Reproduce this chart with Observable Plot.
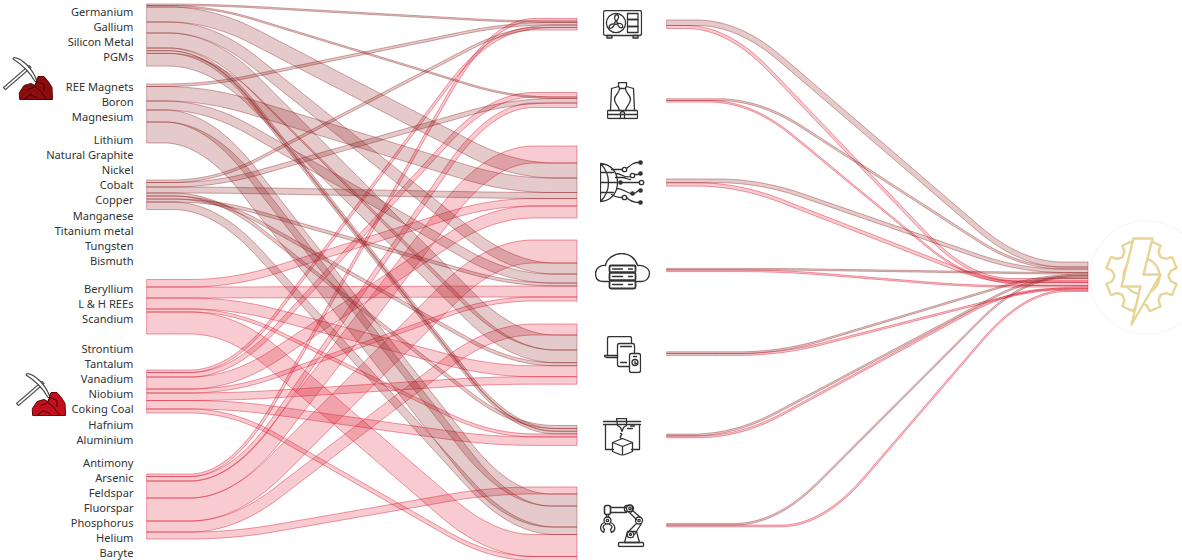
<!DOCTYPE html>
<html><head><meta charset="utf-8">
<script src="https://cdn.jsdelivr.net/npm/d3@7"></script>
<script src="https://cdn.jsdelivr.net/npm/@observablehq/plot@0.6"></script>
<style>html,body{margin:0;padding:0;background:#fff;overflow:hidden}svg{display:block}</style>
</head><body><div id="chart"></div>
<script>
// ---------- DATA ----------
const minerals = ["Germanium","Gallium","Silicon Metal","PGMs","REE Magnets","Boron","Magnesium","Lithium","Natural Graphite","Nickel","Cobalt","Copper","Manganese","Titanium metal","Tungsten","Bismuth","Beryllium","L & H REEs","Scandium","Strontium","Tantalum","Vanadium","Niobium","Coking Coal","Hafnium","Aluminium","Antimony","Arsenic","Feldspar","Fluorspar","Phosphorus","Helium","Baryte"];
const labelGroupSizes = [4,3,9,3,7,7];
// supply-band magnitudes, in the order they leave the left-hand column
const bandValues  = [1.5,1.5,15,11,15,2.7,2.7,12.7, 2.5,14.5,9,12,21, 2.5,4.5,6,3,3,3,7.5, 7.5,11,11,3,22, 2.5,4.5,12,4,7.5,8.5,4, 2.5,4.5,17,23,11,7];
const bandBlockSizes = [8,5,7,5,7,6];
const bandBlockRisk  = ["high","high","high","mid","mid","mid"];
// stacking order of the bands entering each sector
const sectorInflows = [
  [32,0,8,13,25],
  [26,1,14,33],
  [34,2,9,15,20,27],
  [35,3,10,18,21,28],
  [36,4,7,17,22,29],
  [16,5,6,23,30],
  [37,11,12,19,24,31]
];
// sector to technology flows: magnitude at the sector, magnitude at the final node
const outDarkSector = [5.5,1.8,3.7,1.5,1.7,1.8,1.7];
const outPinkSector = [3,1.6,3.4,1.7,1.9,1.8,1.7];
const outDarkFinal  = [5,2,3.5,1.5,1.5,1.5,1.5];
const outPinkFinal  = [2.5,1.5,3,1.5,1.5,1.5,1.5];

// ---------- LAYOUT ----------
const W = 1182, H = 560;
const xLeft = 147, xMid = 577, xOut = 667, xEnd = 1088;
const blockTops = [4,84,180,279.5,370,474];
const blockRamp = [[.15,.85],[.14,.84],[.16,.85],[.2,.8],[.2,.8],[.2,.8]];
const sectorTops = [18.5,92.5,146,240,324,425.5,487];
const outTops = [20,98.7,179,268.4,351.8,434.1,523.4];
const finalTop = 262;
const labelTops = [12,87,140,288.5,349,462.5];
const labelStep = 15.1, labelX = 133;
const colors = {high:"#8b1a1a", mid:"#dc1e35"};
const strokeAlpha = {high:.5, mid:.6};
const darkRampA=[.17,.22,.22,.27,.27,.16,.26], darkRampB=[.84,.84,.84,.89,.89,.87,.845];
const pinkRampA=[.145,.2,.17,.27,.27,.175,.37], pinkRampB=[.72,.72,.78,.72,.89,.82,.85];

function ease(u,a,b,r){
  const h = 1/(b-a);
  if (u <= a-r) return 0;
  if (u <  a+r) return h*(u-a+r)*(u-a+r)/(4*r);
  if (u <= b-r) return h*(u-a);
  if (u <  b+r) return 1-h*(b+r-u)*(b+r-u)/(4*r);
  return 1;
}
// constant perpendicular width, like a stroked sankey link
function ribbon(id,risk,x0,x1,a0,a1,b0,b1,k){
  const out=[], n=120, dx=(x1-x0);
  const mid=u=>{const e=ease(u,k[0],k[1],k[2]);return (a0+a1)/2+((b0+b1)/2-(a0+a1)/2)*e;};
  for(let i=0;i<=n;i++){
    const u=i/n, e=ease(u,k[0],k[1],k[2]);
    const hw=((a1-a0)+((b1-b0)-(a1-a0))*e)/2;
    const s=(mid(Math.min(1,u+.002))-mid(Math.max(0,u-.002)))/((Math.min(1,u+.002)-Math.max(0,u-.002))*dx);
    const L=Math.sqrt(1+s*s), x=x0+dx*u, y=mid(u);
    out.push({id,risk,xa:x+s*hw/L,ya:y-hw/L,xb:x-s*hw/L,yb:y+hw/L});
  }
  return out;
}
const flows=[];
const bandTop=[], bandRisk=[], bandBlock=[];
{let i=0; bandBlockSizes.forEach((n,b)=>{let y=blockTops[b];for(let j=0;j<n;j++,i++){bandTop[i]=y;bandRisk[i]=bandBlockRisk[b];bandBlock[i]=b;y+=bandValues[i];}});}
sectorInflows.forEach((list,s)=>{
  let y=sectorTops[s];
  list.forEach(i=>{
    const v=bandValues[i], rp=blockRamp[bandBlock[i]];
    flows.push(...ribbon("L"+i,bandRisk[i],xLeft,xMid,bandTop[i],bandTop[i]+v,y,y+v,[rp[0],rp[1],.1]));
    y+=v;
  });
});
{let y=finalTop;
 outDarkSector.forEach((v,s)=>{const t=outTops[s],f=outDarkFinal[s];
   flows.push(...ribbon("D"+s,"high",xOut,xEnd,t,t+v,y,y+f,[darkRampA[s],darkRampB[s],.1])); y+=f;});
 outPinkSector.forEach((v,s)=>{const t=outTops[s]+outDarkSector[s],f=outPinkFinal[s];
   flows.push(...ribbon("P"+s,"mid",xOut,xEnd,t,t+v,y,y+f,[pinkRampA[s],pinkRampB[s],.1])); y+=f;});
}
const labelRows=[];
{let i=0; labelGroupSizes.forEach((n,g)=>{for(let j=0;j<n;j++,i++)labelRows.push({name:minerals[i],y:labelTops[g]+j*labelStep});});}

// ---------- ICONS ----------
const ink="#333";
const svgUri=(w,h,b,extra="")=>"data:image/svg+xml;charset=utf-8,"+encodeURIComponent(
  `<svg xmlns="http://www.w3.org/2000/svg" width="${w}" height="${h}" viewBox="0 0 ${w} ${h}" fill="none" stroke="${ink}" stroke-width="1.3" stroke-linejoin="round" stroke-linecap="round" ${extra}>${b}</svg>`);
const acIcon=svgUri(40,30,`<rect x="1" y="1" width="38" height="25" rx="2"/><rect x="4.5" y="26" width="5" height="2.5"/><rect x="30.5" y="26" width="5" height="2.5"/><circle cx="13.5" cy="13.5" r="9.6"/><circle cx="13.5" cy="13.5" r="1.4"/><path d="M13.5 12 C11 9 12 5 15 5 C17 7 15.5 10 13.5 12 M15 14 C19 13 21 16 20 18 C17.5 19 15.5 17 15 14 M12 14.5 C11 18 8 20 6.5 18 C6.5 15.5 9.5 14 12 14.5"/><rect x="25" y="4" width="10.5" height="6"/><rect x="25" y="10" width="10.5" height="7"/><rect x="25" y="17" width="10.5" height="6"/>`);
const furnaceIcon=svgUri(32,38,`<path d="M12 1h8v4l-1.5 2h-5L12 5z"/><path d="M5 7 L12 5 M20 5 L27 7 M5 7 L4 29 M27 7 L28 29"/><path d="M13 7 C13 12 8 13 8 18 C8 22 12 24 13 29 M19 7 C19 12 24 13 24 18 C24 22 20 24 19 29"/><rect x="1" y="29" width="30" height="8" rx="1"/><path d="M1 33 H31 M14 37 V32 a2 2 0 0 1 4 0 V37"/>`);
const globeIcon=svgUri(46,46,`<path d="M1 4 V42 M1 4 C14 5 18 15 18 23 C18 31 14 41 1 42 M1 4 C8 11 9 17 9 23 C9 29 8 35 1 42 M1 23 H18 M1 13 H14 M1 33 H14"/><circle cx="25" cy="10" r="2.2"/><circle cx="33" cy="16" r="2.2"/><circle cx="41" cy="3" r="1.7" fill="${ink}"/><circle cx="41" cy="14" r="1.7" fill="${ink}"/><circle cx="42" cy="23" r="2.2"/><circle cx="41" cy="31" r="1.7" fill="${ink}"/><circle cx="33" cy="34" r="1.7" fill="${ink}"/><circle cx="25" cy="38" r="2.2"/><circle cx="41" cy="43" r="1.7" fill="${ink}"/><circle cx="21" cy="23" r="1.7" fill="${ink}"/><path d="M12 10 C16 10 17 10 23 10 M27 9 C32 5 34 3 39 3 M17 14 C22 14 25 19 31 17 M35 15 H39 M23 23 H40 M16 18 H23 C27 18 27 20 31 20 M17 29 C23 29 25 32 31 34 M35 34 L39 31 M12 35 C16 38 20 38 23 38 M27 38 C30 41 35 43 39 43"/>`);
const cloudIcon=svgUri(56,38,`<path d="M14 29 H9 C3 29 1 25 1 21 C1 16 6 12 11 13 C12 6 20 1 27 1 C35 1 41 6 43 13 C49 12 55 16 55 21 C55 26 51 29 47 29 H42"/><rect x="15" y="13" width="26" height="7" rx="1.5" stroke-width="1.8"/><rect x="15" y="20" width="26" height="8" rx="1.5" stroke-width="1.8"/><rect x="15" y="28" width="26" height="8" rx="1.5" stroke-width="1.8"/><path d="M18 16.5 H28 M18 24 H28 M18 32 H28 M34 16.5 H38 M34 24 H38 M34 32 H38" stroke-width="1.4"/>`);
const devicesIcon=svgUri(38,38,`<path d="M4 20 V3 a2 2 0 0 1 2 -2 H26 a2 2 0 0 1 2 2 V7"/><path d="M1 20 H14 V22 H3 C2 22 1 21 1 20"/><rect x="14" y="8" width="17" height="23" rx="2"/><path d="M17 11 H28 M17 27 H23"/><rect x="26" y="18" width="11" height="19" rx="2" fill="#fff"/><circle cx="31.5" cy="27" r="3"/><path d="M30 21 H33 M31.5 26 V28 L33 28"/>`);
const printerIcon=svgUri(40,38,`<path d="M1 4 H38 M1 7 H38 M3 7 V32 H11 M37 7 V32 H29"/><path d="M14 1 H24 V8 L21 10 L19.5 14 L18 10 L15 8 Z"/><path d="M18 16 C22 17 15 19 19 21 M25 11 H30 M28 8.5 H32"/><path d="M20 21 L30 25 V34 L20 38 L10 34 V25 Z M10 25 L20 29 L30 25 M20 29 V38"/>`);
const robotIcon=svgUri(46,44,`<rect x="5" y="2" width="6" height="9" rx="2" stroke-width="1.6"/><path d="M11 4 H27 M11 9 H27" stroke-width="1.4"/><rect x="25" y="2" width="8" height="6" rx="2"/><circle cx="30.5" cy="5" r="3.5"/><circle cx="30.5" cy="5" r="1.2"/><path d="M33 7 L41 14 M30 9 L37 16"/><circle cx="39.5" cy="17" r="3.5"/><circle cx="39.5" cy="17" r="1.2"/><path d="M37 20 L30 27 M42 20 L35 31"/><path d="M28 28 L25 39 H40 L37 28 Z"/><circle cx="31" cy="31" r="3.2"/><circle cx="31" cy="31" r="1"/><rect x="19" y="39" width="25" height="4" rx="1"/><path d="M7 11 V14 M9 11 V14"/><circle cx="8" cy="17" r="3.5"/><circle cx="8" cy="17" r="1.2"/><path d="M5 19 C0 21 0 27 4 29 L5 26 C3 24 3 22 6 21 M11 19 C16 21 17 27 12 29 L11 26 C13 24 13 22 10 21"/>`);

function pickIcon(rock){
  return svgUri(66,46,`<path d="M1.5 31 L27 9 L29 11 L3.5 33 Z" fill="#fff" stroke="#555" stroke-width="1.1"/><path d="M12 1 C20 2 31 12 35 25 L33 25 C28 16 20 8 11 2.5 Z" fill="#fff" stroke="#444" stroke-width="1.1"/><path d="M17.5 36 L22 29 L29 27 L33 29 L36 20 L42 20 L47 26 L50 31 L50.5 43 L18 43 Z" fill="${rock}" stroke="#5a0505" stroke-width="1"/><path d="M26 33 L33 30 L38 34 L41 38 L45 43 M22 43 L28 38 L35 41 M33 29 L35 25 L42 28 L42 34" stroke="#3a0000" stroke-width=".9"/>`);
}
const gearPts=[];
{const cx=37,cy=39.5,n=8;
 for(let i=0;i<n;i++){
  const c=(i+.5)/n*2*Math.PI-Math.PI/2, w=Math.PI/n;
  const pt=(r,t)=>[cx+r*Math.cos(t),cy+r*Math.sin(t)];
  gearPts.push(pt(27,c-w*.95),pt(30,c-w*.55),pt(36,c-w*.42),pt(36,c+w*.42),pt(30,c+w*.55),pt(27,c+w*.95));
 }}
const gearPath="M"+gearPts.map(p=>p.map(v=>v.toFixed(1)).join(" ")).join(" L")+"Z";
const energyIcon=svgUri(76,90,`<g stroke="#e6d596" stroke-width="2.4"><path d="${gearPath}"/><circle cx="37" cy="39.5" r="18" /><path d="M29 2 H48 L39 38 H56 L27 88 L36 50 H17 Z" fill="#fff"/></g>`);
const faintRing=svgUri(116,116,`<circle cx="58" cy="58" r="57" stroke="#f3f3f3" stroke-width="1"/>`);

const iconNames=["ring","energy","ac","furnace","globe","cloud","devices","printer","robot","pickHigh","pickMid"];
const iconSrc=[faintRing,energyIcon,acIcon,furnaceIcon,globeIcon,cloudIcon,devicesIcon,printerIcon,robotIcon,pickIcon("#8b0d0d"),pickIcon("#c40f1f")];
const iconBox=[[1146,277,116,116],[1142,281,76,90],[622,24,40,30],[622,100,32,38],[622,182,46,46],[622,271,56,38],[622,354,38,38],[622,436,40,38],[622,525,46,44],[34.5,79,66,46],[47.5,395,66,46]];
const icons=iconNames.map((n,i)=>({n,src:iconSrc[i],x:iconBox[i][0],y:iconBox[i][1],w:iconBox[i][2],h:iconBox[i][3]}));

// ---------- CHART ----------
const ribbonMark=(risk)=>Plot.area(flows.filter(d=>d.risk===risk),{
  x1:"xa",y1:"ya",x2:"xb",y2:"yb",z:"id",curve:"linear",
  fill:colors[risk],fillOpacity:.23,stroke:colors[risk],strokeOpacity:strokeAlpha[risk],strokeWidth:.75
});
const chart=Plot.plot({
  width:W,height:H,margin:0,
  x:{domain:[0,W],range:[0,W],axis:null},
  y:{domain:[0,H],range:[0,H],axis:null},
  marks:[
    ribbonMark("mid"),
    ribbonMark("high"),
    Plot.image(icons,{x:"x",y:"y",width:"w",height:"h",src:"src"}),
    Plot.text(labelRows,{x:labelX,y:"y",text:"name",textAnchor:"end",fontSize:11.1,fontFamily:"'Noto Sans',sans-serif",fill:"#333"})
  ]
});
document.getElementById("chart").appendChild(chart);
</script></body></html>
